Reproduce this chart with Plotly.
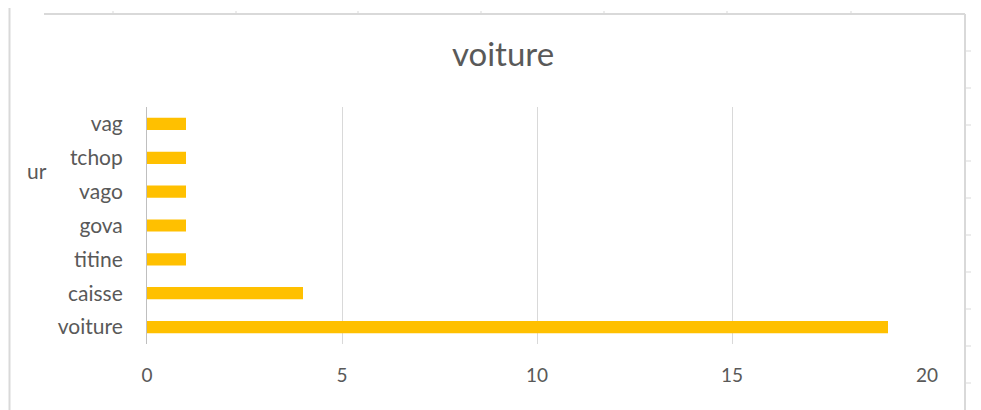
import plotly.graph_objects as go

categories = ["voiture", "caisse", "titine", "gova", "vago", "tchop", "vag"]
values = [19, 4, 1, 1, 1, 1, 1]
x_ticks = [0, 5, 10, 15, 20]
title_text = "voiture"

W, H = 981, 410
L, R, T, B = 147, 927, 107, 344

def px(x):
    return (x - L) / (R - L)

def py(y):
    return (B - y) / (B - T)

grid_col = "#d9d9d9"
shapes = []
def line(x0, y0, x1, y1, col=grid_col, w=1):
    shapes.append(dict(type="line", xref="paper", yref="paper",
                       x0=px(x0), y0=py(y0), x1=px(x1), y1=py(y1),
                       line=dict(color=col, width=w)))

# spreadsheet surroundings
line(9.5, 8, 9.5, 410, w=2)
line(44, 14, 965, 14, w=2)
for xt in [113, 236, 358, 481, 604, 727, 851]:
    line(xt, 11, xt, 14)
line(965, 14, 965, 410, w=2)
for yt in [51, 88, 125, 161, 198, 235, 272, 309, 346, 383]:
    line(965, yt, 971, yt)

fig = go.Figure(go.Bar(
    x=values, y=categories, orientation="h",
    marker=dict(color="#FFC000", line=dict(width=0)),
    width=0.36,
))

font_family = "Lato, 'Open Sans', sans-serif"
fig.update_layout(
    width=W, height=H,
    margin=dict(l=L, r=W - R, t=T, b=H - B, pad=0),
    paper_bgcolor="white", plot_bgcolor="white",
    showlegend=False,
    font=dict(family=font_family, color="#595959"),
    title=dict(text=title_text, x=503 / W, xanchor="center",
               y=1 - 54 / H, yanchor="middle",
               font=dict(size=33, color="#595959", family=font_family)),
    xaxis=dict(range=[0, 20], tickvals=x_ticks, showgrid=True, gridcolor=grid_col,
               gridwidth=1, zeroline=False, showline=False, ticks="",
               tickfont=dict(size=19, color="#595959"), ticklabelstandoff=18),
    yaxis=dict(type="category", categoryorder="array", categoryarray=categories,
               showgrid=False, zeroline=False, showline=True, linecolor="#bfbfbf",
               linewidth=1, ticks="", ticklabelstandoff=19,
               tickfont=dict(size=21, color="#595959")),
    shapes=shapes,
    annotations=[dict(text="ur", xref="paper", yref="paper", x=px(25), y=py(170),
                      xanchor="left", yanchor="middle", showarrow=False,
                      font=dict(size=21, color="#595959", family=font_family))],
)

fig.write_html("out.html", config={"displayModeBar": False},
               post_script="document.body.style.margin='0';")
